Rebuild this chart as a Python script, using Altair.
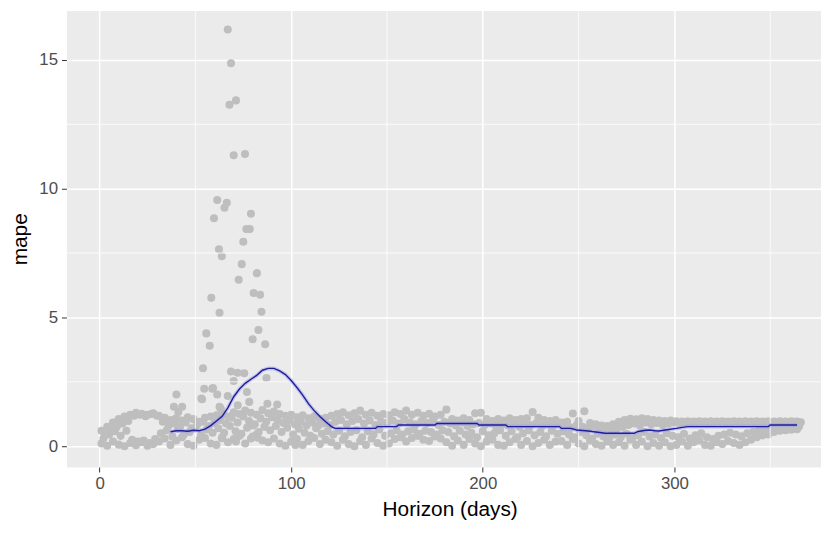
import altair as alt
import pandas as pd

# Forecast horizons (days) for each cross-validation cutoff trace
days_a = list(range(1, 365, 3))
days_b = list(range(2, 366, 3))
days_c = list(range(3, 367, 3))
days_d = list(range(1, 365, 3))

# Point-wise MAPE, four cross-validation cutoffs
trace_a = [
    0.10, 0.02, 0.18, 0.06, 0.00, 0.12, 0.04, 0.15, 0.02, 0.08,
    0.18, 0.30, 0.05, 0.22, 0.35, 0.08, 0.02, 0.25, 0.32, 0.10,
    0.05, 0.35, 0.15, 0.28, 0.40, 0.10, 0.30, 0.45, 0.22, 0.15,
    0.30, 0.10, 0.02, 0.18, 0.28, 0.05, 0.20, 0.32, 0.08, 0.25,
    0.15, 0.02, 0.25, 0.08, 0.00, 0.20, 0.05, 0.30, 0.12, 0.02,
    0.10, 0.28, 0.35, 0.18, 0.32, 0.40, 0.25, 0.20, 0.38, 0.30,
    0.15, 0.02, 0.22, 0.05, 0.28, 0.10, 0.00, 0.18, 0.25, 0.05,
    0.02, 0.15, 0.28, 0.05, 0.20, 0.00, 0.12, 0.25, 0.05, 0.18,
    0.20, 0.05, 0.28, 0.10, 0.00, 0.22, 0.08, 0.02, 0.18, 0.05,
    0.15, 0.02, 0.25, 0.05, 0.18, 0.00, 0.12, 0.02, 0.15, 0.00,
    0.05, 0.18, 0.02, 0.15, 0.22, 0.05, 0.02, 0.15, 0.08, 0.20,
    0.12, 0.05, 0.15, 0.25, 0.35, 0.42, 0.45, 0.55, 0.60, 0.62,
    0.64, 0.66,
]
trace_b = [
    0.30, 0.45, 0.58, 0.40, 0.60, 0.25, 0.18, 0.22, 0.12, 0.28,
    0.50, 0.62, 0.38, 0.68, 0.45, 0.55, 0.70, 0.42, 0.65, 0.52,
    0.70, 0.52, 0.78, 0.58, 0.48, 0.72, 0.80, 0.55, 0.75, 0.62,
    0.78, 0.55, 0.72, 0.45, 0.68, 0.52, 0.40, 0.70, 0.48, 0.58,
    0.45, 0.60, 0.38, 0.55, 0.62, 0.35, 0.58, 0.45, 0.65, 0.40,
    0.50, 0.62, 0.45, 0.58, 0.65, 0.48, 0.60, 0.55, 0.45, 0.62,
    0.55, 0.38, 0.60, 0.45, 0.52, 0.35, 0.58, 0.42, 0.50, 0.62,
    0.40, 0.58, 0.35, 0.50, 0.62, 0.42, 0.55, 0.38, 0.60, 0.48,
    0.58, 0.45, 0.35, 0.55, 0.42, 0.30, 0.48, 0.38, 0.32, 0.45,
    0.35, 0.48, 0.30, 0.42, 0.55, 0.38, 0.45, 0.32, 0.50, 0.40,
    0.35, 0.48, 0.30, 0.42, 0.50, 0.35, 0.28, 0.40, 0.45, 0.52,
    0.45, 0.38, 0.50, 0.55, 0.60, 0.65, 0.68, 0.72, 0.74, 0.75,
    0.74, 0.76,
]
trace_c = [
    0.45, 0.62, 0.75, 0.88, 0.98, 1.18, 1.22, 1.16, 1.25, 1.18,
    0.95, 0.80, 0.88, 0.75, 0.92, 0.70, 0.85, 0.95, 0.78, 0.90,
    1.02, 0.88, 1.10, 0.92, 1.15, 0.98, 0.85, 1.08, 0.95, 1.12,
    1.02, 0.90, 1.00, 0.85, 0.95, 0.80, 0.92, 0.78, 0.88, 0.82,
    0.95, 1.02, 0.85, 0.98, 1.05, 0.88, 1.00, 0.82, 0.95, 0.90,
    1.00, 0.88, 1.05, 0.92, 0.85, 0.98, 0.90, 1.02, 0.82, 0.95,
    0.88, 0.80, 0.92, 0.78, 0.85, 0.90, 0.82, 0.88, 0.75, 0.85,
    0.80, 0.88, 0.75, 0.85, 0.82, 0.90, 0.78, 0.85, 0.80, 0.88,
    0.80, 0.72, 0.82, 0.75, 0.70, 0.78, 0.65, 0.70, 0.62, 0.68,
    0.75, 0.82, 0.88, 0.80, 0.92, 0.85, 0.90, 0.82, 0.88, 0.92,
    0.90, 0.93, 0.91, 0.94, 0.92, 0.90, 0.93, 0.94, 0.91, 0.93,
    0.93, 0.91, 0.94, 0.92, 0.90, 0.93, 0.94, 0.92, 0.91, 0.93,
    0.92, 0.93,
]
trace_d = [
    0.60, 0.75, 0.92, 1.05, 1.15, 1.22, 1.30, 1.26, 1.22, 1.28,
    1.18, 1.10, 1.02, 1.08, 1.00, 1.12, 1.05, 0.95, 1.10, 1.15,
    1.20, 1.28, 1.15, 1.32, 1.25, 1.38, 1.30, 1.22, 1.40, 1.28,
    1.35, 1.25, 1.18, 1.22, 1.12, 1.20, 1.08, 1.15, 1.05, 1.10,
    1.18, 1.25, 1.32, 1.20, 1.28, 1.38, 1.22, 1.30, 1.18, 1.25,
    1.20, 1.32, 1.25, 1.38, 1.22, 1.30, 1.18, 1.26, 1.15, 1.22,
    1.42, 1.05, 1.00, 1.08, 1.02, 1.28, 1.30, 1.05, 0.98, 1.05,
    1.00, 1.08, 1.02, 1.05, 1.08, 1.33, 1.10, 1.02, 0.98, 1.02,
    0.92, 0.95, 1.27, 0.98, 1.36, 0.90, 0.85, 0.80, 0.78, 0.85,
    0.95, 1.02, 1.06, 1.04, 1.08, 1.05, 1.02, 1.00, 0.98, 1.00,
    0.97, 0.96, 0.97, 0.96, 0.97, 0.96, 0.97, 0.96, 0.97, 0.96,
    0.97, 0.96, 0.97, 0.96, 0.97, 0.96, 0.97, 0.96, 0.97, 0.96,
    0.97, 0.96,
]

# Scattered high errors around the 50-100 day horizons
out_x = [40.1, 38.8, 43.1, 41.1, 54.0, 55.7, 57.5, 58.3, 62.6, 62.3, 63.8, 75.0,
         74.2, 72.6, 82.1, 80.4, 83.8, 84.5, 82.9, 79.9, 86.4, 87.1, 54.6, 53.5,
         58.8, 61.4, 68.6, 72.0, 75.5, 70.0, 76.9, 66.9, 78.1, 72.1, 63.2, 66.9,
         68.6, 67.8, 71.2, 70.0, 75.9, 61.4, 66.4, 65.2, 59.7, 79.0, 76.6, 78.4,
         87.6, 92.7, 59.2, 53.1, 62.6, 71.2, 79.9, 82.5, 63.8, 102.2]
out_y = [2.01, 1.53, 1.53, 1.33, 3.03, 4.38, 3.90, 5.76, 5.18, 7.65, 7.38, 7.94,
         7.07, 6.46, 6.72, 5.95, 5.88, 5.22, 4.51, 4.15, 3.96, 2.65, 2.23, 1.82,
         2.23, 2.01, 2.90, 2.85, 2.83, 2.53, 2.10, 1.95, 1.72, 1.59, 1.46, 16.18,
         14.87, 13.26, 13.43, 11.30, 11.35, 9.56, 9.45, 9.26, 8.85, 9.03, 8.43, 8.43,
         1.65, 1.62, 2.26, 1.85, 1.53, 0.18, 0.37, 0.33, 0.31, 0.05]

# Rolling mean line
line_day = [37, 40, 43, 46, 49, 52, 55, 58, 61, 64,
            67, 70, 73, 76, 79, 82, 85, 88, 91, 94,
            97, 100, 103, 106, 109, 112, 115, 118, 121, 123,
            144, 145, 155, 156, 175, 176, 197, 198, 212, 213,
            240, 241, 246, 249, 252, 255, 260, 264, 279, 281,
            285, 287, 290, 292, 296, 301, 305, 307, 349, 350,
            364]
line_val = [0.56, 0.60, 0.60, 0.58, 0.62, 0.60, 0.66, 0.80, 0.98, 1.16,
            1.50, 1.92, 2.22, 2.44, 2.60, 2.75, 2.95, 3.02, 3.02, 2.92,
            2.78, 2.55, 2.28, 1.98, 1.65, 1.38, 1.15, 0.95, 0.76, 0.69,
            0.69, 0.76, 0.76, 0.82, 0.82, 0.88, 0.88, 0.82, 0.82, 0.76,
            0.76, 0.69, 0.69, 0.63, 0.61, 0.59, 0.54, 0.50, 0.50, 0.57,
            0.62, 0.63, 0.60, 0.59, 0.64, 0.69, 0.74, 0.76, 0.76, 0.82,
            0.82]

x_ticks = [0, 100, 200, 300]
x_minor = [50, 150, 250, 350]
y_ticks = [0, 5, 10, 15]
y_minor = [2.5, 7.5, 12.5]

pts = pd.DataFrame({
    "horizon": days_a + days_b + days_c + days_d + out_x,
    "mape": trace_a + trace_b + trace_c + trace_d + out_y,
})
line_df = pd.DataFrame({"horizon": line_day, "mape": line_val,
                        "ord": list(range(len(line_day)))})
minor_x_df = pd.DataFrame({"horizon": x_minor})
minor_y_df = pd.DataFrame({"mape": y_minor})

xscale = alt.Scale(domain=[-17.3, 376.5], nice=False, zero=False)
yscale = alt.Scale(domain=[-0.81, 16.92], nice=False, zero=False)
x_axis = alt.Axis(values=x_ticks, title="Horizon (days)", format="d",
                  titleX=387, titlePadding=7)
y_axis = alt.Axis(values=y_ticks, title="mape", format="d", titlePadding=8)

X = alt.X("horizon:Q", scale=xscale, axis=x_axis)
Y = alt.Y("mape:Q", scale=yscale, axis=y_axis)

points = alt.Chart(pts).mark_circle(color="#BEBEBE", size=66, opacity=1).encode(
    x=X, y=Y)
gx = alt.Chart(minor_x_df).mark_rule(color="white", strokeWidth=0.8).encode(x=X)
gy = alt.Chart(minor_y_df).mark_rule(color="white", strokeWidth=0.8).encode(y=Y)

halo = alt.Chart(line_df).mark_line(color="#9A9AF0", strokeWidth=4, opacity=0.45).encode(
    x=X, y=Y, order="ord:Q")
line = alt.Chart(line_df).mark_line(color="#1E1E9A", strokeWidth=1.4).encode(
    x=X, y=Y, order="ord:Q")

chart = alt.layer(points, gx, gy, halo, line).properties(
    width=762, height=461,
    autosize=alt.AutoSizeParams(type="none"),
    padding={"left": 59, "top": 0, "right": 0, "bottom": 56},
).configure_view(
    fill="#EBEBEB", stroke="transparent"
).configure_axis(
    domain=False,
    grid=True,
    gridColor="white",
    gridWidth=1.5,
    tickColor="#333333",
    tickSize=5,
    tickWidth=1,
    labelColor="#4D4D4D",
    labelFont="Liberation Sans",
    labelFontSize=17,
    labelPadding=4,
    titleFont="Liberation Sans",
    titleFontSize=21,
    titleFontWeight="normal",
    titleColor="black",
)

chart.save("out.html", embed_options={"renderer": "svg", "actions": False})
